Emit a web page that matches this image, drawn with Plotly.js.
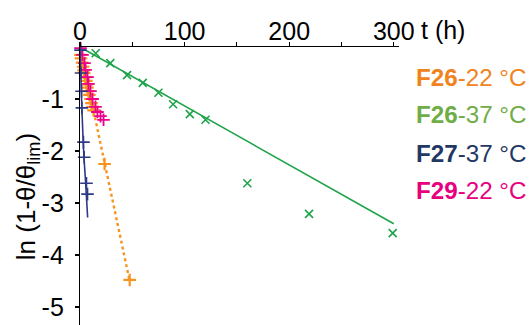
<!DOCTYPE html>
<html>
<head>
<meta charset="utf-8">
<script src="https://cdn.plot.ly/plotly-3.0.1.min.js"></script>
<style>html,body{margin:0;padding:0;background:#fff;}#chart{width:532px;height:325px;}</style>
</head>
<body>
<div id="chart"></div>
<script>
// F26-22 °C (orange +)
const orangeT = [0.5, 1, 2, 3, 3.5, 4, 5, 6, 6.5, 7, 8, 9, 10, 11, 12, 13, 23.5, 47.5];
const orangeY = [-0.15, -0.22, -0.3, -0.38, -0.45, -0.5, -0.58, -0.65, -0.72, -0.78, -0.85, -0.92, -1.0, -1.08, -1.15, -1.22, -2.25, -4.48];
const orangeFitT = [0, 47.5];
const orangeFitY = [0, -4.5];
// F26-37 °C (green x)
const greenT = [15, 29, 45, 60, 75, 89, 105, 120, 160, 219, 299];
const greenY = [-0.12, -0.31, -0.54, -0.69, -0.88, -1.10, -1.29, -1.40, -2.62, -3.21, -3.58];
const greenFitT = [0, 300];
const greenFitY = [0, -3.40];
// F27-37 °C (navy +)
const navyT = [0.5, 1, 1.5, 1.8, 3.3, 4, 6.2, 7.2];
const navyY = [-0.06, -0.5, -0.85, -1.17, -1.83, -2.12, -2.62, -2.83];
const navyFitT = [0, 1.5, 3.5, 5.5, 7.3];
const navyFitY = [0, -1.0, -2.0, -2.65, -3.28];
// F29-22 °C (pink +)
const pinkT = [0.5, 2.4, 4.3, 5.3, 7.2, 8.1, 10, 12, 14.8, 16.7, 19.6, 22.5];
const pinkY = [-0.02, -0.15, -0.31, -0.44, -0.58, -0.71, -0.85, -1.0, -1.15, -1.25, -1.33, -1.40];

const xTickVals = [0, 100, 200, 300];
const xTickText = ['0', '100', '200', '300'];
const xMinorTickVals = [50, 150, 250];
const yTickVals = [-1, -2, -3, -4, -5];
const yTickText = ['-1', '-2', '-3', '-4', '-5'];

const legendLabels = ['<b>F26</b>-22 °C', '<b>F26</b>-37 °C', '<b>F27</b>-37 °C', '<b>F29</b>-22 °C'];
const legendColors = ['#F0831E', '#70AD47', '#1F3864', '#E6007E'];
const legendY = [0.8885, 0.7554, 0.6187, 0.4856];

const FONT = 'Arial, "Liberation Sans", sans-serif';

const traces = [
  {x: greenFitT, y: greenFitY, mode: 'lines', line: {color: '#1FA34A', width: 1.6}, cliponaxis: false, hoverinfo: 'skip'},
  {x: greenT, y: greenY, mode: 'markers', marker: {symbol: 'x-thin-open', size: 8, color: '#1FA34A', line: {color: '#1FA34A', width: 1.6}}, cliponaxis: false},
  {x: orangeFitT, y: orangeFitY, mode: 'lines', line: {color: '#F7941D', width: 2.4, dash: 'dot'}, cliponaxis: false, hoverinfo: 'skip'},
  {x: orangeT, y: orangeY, mode: 'markers', marker: {symbol: 'cross-thin-open', size: 9, color: '#F7941D', line: {color: '#F7941D', width: 2.2}}, cliponaxis: false},
  {x: pinkT, y: pinkY, mode: 'markers', marker: {symbol: 'cross-thin-open', size: 9, color: '#EC008C', line: {color: '#EC008C', width: 1.8}}, cliponaxis: false},
  {x: navyFitT, y: navyFitY, mode: 'lines', line: {color: '#2E3A87', width: 1.6, shape: 'spline'}, cliponaxis: false, hoverinfo: 'skip'},
  {x: navyT, y: navyY, mode: 'markers', marker: {symbol: 'cross-thin-open', size: 9, color: '#2E3A87', line: {color: '#2E3A87', width: 1.6}}, cliponaxis: false}
];

const annotations = legendLabels.map((t, i) => ({
  x: 1.047, y: legendY[i], xref: 'paper', yref: 'paper', text: t, showarrow: false,
  xanchor: 'left', yanchor: 'middle', font: {family: FONT, size: 24.2, color: legendColors[i]}
}));
annotations.push({x: 1.138, y: 1.06, xref: 'paper', yref: 'paper', text: 't (h)', showarrow: false,
  xanchor: 'center', yanchor: 'middle', font: {family: FONT, size: 25, color: '#000'}});
annotations.push({x: -0.166, y: 0.46, xref: 'paper', yref: 'paper', text: 'ln (1-θ/θ<sub>lim</sub>)',
  textangle: -90, showarrow: false, xanchor: 'center', yanchor: 'middle',
  font: {family: FONT, size: 26, color: '#000'}});

const layout = {
  width: 532, height: 325,
  margin: {l: 80, r: 133, t: 47, b: 0, pad: 0},
  paper_bgcolor: '#fff', plot_bgcolor: '#fff',
  showlegend: false,
  font: {family: FONT, size: 25, color: '#000'},
  xaxis: {
    side: 'top', range: [0, 305], tickmode: 'array', tickvals: xTickVals, ticktext: xTickText,
    showgrid: false, zeroline: false, showline: true, linecolor: '#000', linewidth: 1.2,
    ticks: 'outside', ticklen: 4, tickcolor: '#000', tickwidth: 1.2,
    minor: {tickmode: 'array', tickvals: xMinorTickVals, ticks: 'outside', ticklen: 4, tickcolor: '#000', tickwidth: 1.2, showgrid: false},
    ticklabelstandoff: -8,
    tickfont: {family: FONT, size: 25, color: '#000'}
  },
  yaxis: {
    range: [-5.346, 0], tickmode: 'array', tickvals: yTickVals, ticktext: yTickText,
    showgrid: false, zeroline: false, showline: true, linecolor: '#000', linewidth: 1.2,
    ticks: 'outside', ticklen: 4, tickcolor: '#000', tickwidth: 1.2,
    ticklabelstandoff: 6,
    tickfont: {family: FONT, size: 25, color: '#000'}
  },
  annotations: annotations
};

Plotly.newPlot('chart', traces, layout, {staticPlot: true, displayModeBar: false});
</script>
</body>
</html>
